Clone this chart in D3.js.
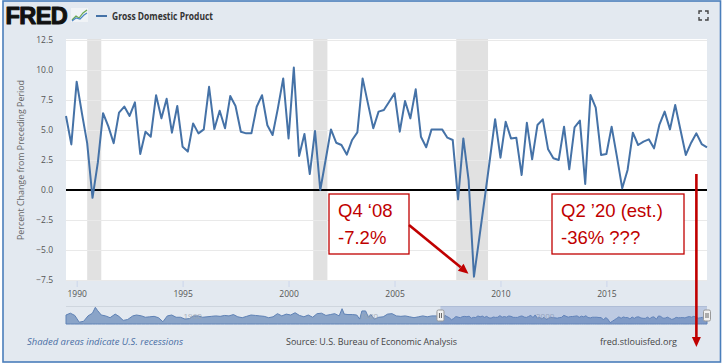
<!DOCTYPE html>
<html><head><meta charset="utf-8">
<script src="https://cdn.jsdelivr.net/npm/d3@7"></script>
<style>body{margin:0;background:#fff;} svg{display:block;}</style>
</head><body>
<svg id="c" width="723" height="363"></svg>
<script>
// ---------------- data ----------------
const seriesName = "Gross Domestic Product";
const firstQuarter = "1989-07-01";
// Percent change from preceding period (quarterly, annualized), 1989Q3 .. 2019Q4
const gdpChange = [
  6.17, 3.8,
  9.03, 6.4, 3.9, -0.65,
  2.3, 6.4, 5.3, 3.9,
  6.45, 6.95, 6.17, 7.3,
  3.0, 4.86, 4.44, 7.9,
  5.97, 7.6, 4.78, 7.0,
  3.6, 3.2, 5.55, 4.72,
  5.05, 8.6, 5.08, 6.6,
  5.14, 7.83, 7.0, 4.86,
  4.72, 4.72, 6.94, 7.9,
  5.4, 4.58, 6.8, 9.3,
  4.3, 10.2, 2.83, 4.67,
  1.33, 4.92, 0.0, 2.5,
  5.05, 3.94, 3.75, 2.95,
  4.17, 4.8, 9.3, 7.2,
  5.14, 6.53, 6.67, 7.36,
  8.05, 4.86, 7.42, 5.97,
  8.39, 4.44, 3.56, 5.05,
  5.05, 5.05, 4.36, 4.17,
  -0.78, 4.3, 0.83, -7.22,
  -4.0, -0.8, 2.5, 5.9,
  2.69, 5.69, 4.3, 4.36,
  1.25, 5.6, 2.56, 5.42,
  5.89, 3.39, 2.64, 2.5,
  5.28, 1.72, 5.22, 5.78,
  0.5, 7.92, 6.86, 2.92,
  3.0, 5.28, 2.78, 0.14,
  1.67, 4.78, 3.75, 4.03,
  4.22, 3.47, 5.42, 6.53,
  5.05, 7.08, 5.0, 2.92,
  3.94, 4.72, 3.83, 3.56
];
const recessionStarts = ["1990-07-01", "2001-03-01", "2007-12-01"];
const recessionEnds   = ["1991-03-01", "2001-11-01", "2009-06-01"];
const yTicks = [-7.5, -5.0, -2.5, 0.0, 2.5, 5.0, 7.5, 10.0, 12.5];
const xTickYears = [1990, 1995, 2000, 2005, 2010, 2015];
// navigator: earlier history (approximate, read from the small navigator strip)
const navHistYears = [1947.0,1947.5,1948.0,1948.5,1949.0,1949.5,1950.0,1950.3,1950.6,1951.0,1951.5,1952.0,1952.6,1953.0,1953.5,1954.0,1954.6,1955.0,1955.6,1956.0,1956.5,1957.0,1957.5,1958.0,1958.5,1959.0,1959.5,1960.0,1960.5,1961.0,1961.5,1962.0,1962.5,1963.0,1963.5,1964.0,1964.5,1965.0,1965.5,1966.0,1966.5,1967.0,1967.5,1968.0,1968.5,1969.0,1969.5,1970.0,1970.5,1971.0,1971.5,1972.0,1972.5,1973.0,1973.5,1974.0,1974.5,1975.0,1975.5,1976.0,1976.5,1977.0,1977.5,1978.0,1978.3,1978.6,1979.0,1979.5,1980.0,1980.3,1980.6,1981.0,1981.3,1981.6,1982.0,1982.5,1983.0,1983.5,1984.0,1984.5,1985.0,1985.5,1986.0,1986.5,1987.0,1987.5,1988.0,1988.5,1989.0];
const navHistValues = [10,14,9,-6,-4,8,14,27,20,10,8,4,12,7,-2,0,8,10,8,5,6,7,4,-5,8,10,5,5,1,2,8,8,5,6,7,8,7,9,8,11,6,4,7,10,9,8,7,4,6,13,8,12,10,15,9,6,10,5,13,14,9,11,13,8,24,12,11,11,10,1,19,19,5,11,1,5,6,12,13,8,7,8,6,4,6,8,6,8,8];
const navLabelYears = [1960, 1980, 2000];
const annotation1 = ["Q4 \u201808", "-7.2%"];
const annotation2 = ["Q2 \u201920 (est.)", "-36% ???"];

// ---------------- setup ----------------
const svg = d3.select("#c");
const W = 723, H = 363;
const BG = "#e3e9f0", LINE = "#4572a7", RED = "#c00000";
const FONT = "'Open Sans', 'Noto Sans', sans-serif";

svg.append("rect").attr("width", W).attr("height", H).attr("fill", "#fff");
svg.append("rect").attr("x", 3).attr("y", 1).attr("width", 717.5).attr("height", 361)
  .attr("fill", BG).attr("stroke", "#4a7ebb").attr("stroke-width", 1.6);

const parse = d3.timeParse("%Y-%m-%d");
const t0 = parse(firstQuarter);
const data = gdpChange.map((v, i) => ({ date: d3.timeMonth.offset(t0, 3 * i), value: v }));

const plot = { left: 66, right: 707, top: 39, bottom: 281 };
const x = d3.scaleTime().domain([data[0].date, data[data.length - 1].date]).range([plot.left, plot.right]);
const y = d3.scaleLinear().domain([-7.5, 12.5]).range([280, 40]);

// plot background
svg.append("rect").attr("x", plot.left).attr("y", plot.top)
  .attr("width", plot.right - plot.left).attr("height", plot.bottom - plot.top).attr("fill", "#fff");

// recessions
svg.append("g").selectAll("rect").data(recessionStarts.map((s, i) => [parse(s), parse(recessionEnds[i])]))
  .join("rect")
  .attr("x", d => x(d[0])).attr("width", d => x(d[1]) - x(d[0]))
  .attr("y", plot.top).attr("height", plot.bottom - plot.top).attr("fill", "#e1e1e1");

// gridlines
svg.append("g").selectAll("line").data(yTicks.filter(d => d !== 0)).join("line")
  .attr("x1", plot.left).attr("x2", plot.right)
  .attr("y1", d => Math.round(y(d)) + 0.5).attr("y2", d => Math.round(y(d)) + 0.5)
  .attr("stroke", "#e9e9e9").attr("stroke-width", 1);

// y axis labels
const yAxis = d3.axisLeft(y).tickValues(yTicks).tickFormat(d3.format(".1f")).tickSize(0).tickPadding(0);
const gy = svg.append("g").attr("transform", "translate(53,0)").call(yAxis);
gy.select(".domain").remove();
gy.selectAll("text").attr("font-family", FONT).attr("font-size", 8.5).attr("fill", "#555");

// y title
svg.append("text").attr("transform", "translate(24,160) rotate(-90)")
  .attr("text-anchor", "middle").attr("font-family", FONT).attr("font-size", 9.5).attr("fill", "#666")
  .attr("textLength", 160).attr("lengthAdjust", "spacingAndGlyphs")
  .text("Percent Change from Preceding Period");

// x axis
const xAxis = d3.axisBottom(x).tickValues(xTickYears.map(yr => new Date(yr, 0, 1)))
  .tickFormat(d3.timeFormat("%Y")).tickSize(6).tickPadding(4);
const gx = svg.append("g").attr("transform", `translate(0,${plot.bottom})`).call(xAxis);
gx.select(".domain").remove();
gx.selectAll("line").attr("stroke", "#ccd6eb");
gx.selectAll("text").attr("font-family", FONT).attr("font-size", 8.5).attr("fill", "#555");

// zero line
svg.append("line").attr("x1", plot.left).attr("x2", plot.right)
  .attr("y1", y(0)).attr("y2", y(0)).attr("stroke", "#000").attr("stroke-width", 2);

// series line
svg.append("path").datum(data)
  .attr("d", d3.line().x(d => x(d.date)).y(d => y(d.value)))
  .attr("fill", "none").attr("stroke", LINE).attr("stroke-width", 2).attr("stroke-linejoin", "round");

// ---------------- header ----------------
svg.append("text").attr("x", 5.5).attr("y", 24).attr("font-family", "'Liberation Sans', Arial, sans-serif")
  .attr("font-weight", 700).attr("font-size", 23.5).attr("fill", "#111").attr("stroke", "#111").attr("stroke-width", 1.1)
  .attr("stroke-linejoin", "round").attr("letter-spacing", -0.6).text("FRED");
const icon = svg.append("g").attr("transform", "translate(71,8)");
icon.append("rect").attr("width", 17).attr("height", 14).attr("fill", "#f0f3f6");
icon.append("polyline").attr("points", "1,12 5,8 8,10 12,5 16,2").attr("fill", "none").attr("stroke", "#6aa84f").attr("stroke-width", 1.2);
icon.append("polyline").attr("points", "1,13 5,10 9,11 13,7 16,5").attr("fill", "none").attr("stroke", "#4a86c5").attr("stroke-width", 1.2);
svg.append("line").attr("x1", 96).attr("x2", 107).attr("y1", 16).attr("y2", 16).attr("stroke", LINE).attr("stroke-width", 2);
svg.append("text").attr("x", 112).attr("y", 20).attr("font-family", FONT).attr("font-weight", 700)
  .attr("font-size", 10).attr("fill", "#333").attr("textLength", 101).attr("lengthAdjust", "spacingAndGlyphs").text(seriesName);
// fullscreen icon
const fs = svg.append("g").attr("transform", "translate(699,11)").attr("fill", "none").attr("stroke", "#444").attr("stroke-width", 1.4);
fs.append("path").attr("d", "M0,3V0H3 M6,0H9V3 M9,6V9H6 M3,9H0V6");

// ---------------- navigator ----------------
const nav = { top: 306, bottom: 324 };
const navData = navHistYears.map((yr, i) => ({ date: new Date(Math.floor(yr), Math.round((yr % 1) * 12), 1), value: navHistValues[i] }))
  .concat(data);
const xn = d3.scaleTime().domain([new Date(1947, 0, 1), data[data.length - 1].date]).range([plot.left, plot.right]);
const yn = d3.scaleLinear().domain([-10, 30]).range([nav.bottom, nav.top]);
svg.append("line").attr("x1", plot.left).attr("x2", plot.right).attr("y1", nav.top + 0.5).attr("y2", nav.top + 0.5)
  .attr("stroke", "#cfd6de");
svg.append("path").datum(navData)
  .attr("d", d3.area().x(d => xn(d.date)).y0(nav.bottom).y1(d => yn(d.value)))
  .attr("fill", "#8aa4c8").attr("stroke", "#5f82b5").attr("stroke-width", 1);
svg.append("g").selectAll("text").data(navLabelYears).join("text")
  .attr("x", d => xn(new Date(d, 0, 1)) + 3).attr("y", 319)
  .attr("font-family", FONT).attr("font-size", 8).attr("fill", "#9aa4b0").attr("opacity", 0.8).text(d => d);
const selX0 = xn(data[0].date), selX1 = xn(data[data.length - 1].date);
svg.append("rect").attr("x", selX0).attr("y", nav.top).attr("width", selX1 - selX0).attr("height", nav.bottom - nav.top)
  .attr("fill", "rgba(102,133,194,0.3)");
[selX0, selX1].forEach(hx => {
  svg.append("rect").attr("x", hx - 3.5).attr("y", 310).attr("width", 7).attr("height", 11).attr("rx", 1.5)
    .attr("fill", "#f2f2f2").attr("stroke", "#999");
  svg.append("line").attr("x1", hx - 1).attr("x2", hx - 1).attr("y1", 313).attr("y2", 318).attr("stroke", "#666");
  svg.append("line").attr("x1", hx + 1).attr("x2", hx + 1).attr("y1", 313).attr("y2", 318).attr("stroke", "#666");
});

// ---------------- footer ----------------
svg.append("text").attr("x", 27).attr("y", 345).attr("font-family", FONT).attr("font-style", "italic")
  .attr("font-size", 9.5).attr("fill", "#4a6fa5").attr("textLength", 156).attr("lengthAdjust", "spacingAndGlyphs")
  .text("Shaded areas indicate U.S. recessions");
svg.append("text").attr("x", 286).attr("y", 345).attr("font-family", FONT)
  .attr("font-size", 9.5).attr("fill", "#444").attr("textLength", 171).attr("lengthAdjust", "spacingAndGlyphs")
  .text("Source: U.S. Bureau of Economic Analysis");
svg.append("text").attr("x", 600).attr("y", 345).attr("font-family", FONT)
  .attr("font-size", 9.5).attr("fill", "#444").attr("textLength", 77).attr("lengthAdjust", "spacingAndGlyphs")
  .text("fred.stlouisfed.org");

// ---------------- annotations ----------------
const AFONT = "'Liberation Sans', Arial, sans-serif";
function box(x0, x1, lines) {
  svg.append("rect").attr("x", x0).attr("y", 194).attr("width", x1 - x0).attr("height", 60)
    .attr("fill", "#fff").attr("stroke", RED).attr("stroke-width", 1.3);
  lines.forEach((t, i) => svg.append("text").attr("x", x0 + 9).attr("y", 217 + i * 27)
    .attr("font-family", AFONT).attr("font-size", 18.5).attr("fill", RED).text(t));
}
box(329, 409, annotation1);
box(552, 684, annotation2);

function arrow(x1, y1, x2, y2) {
  const a = Math.atan2(y2 - y1, x2 - x1), L = 10, w = 4.5;
  const bx = x2 - L * Math.cos(a), by = y2 - L * Math.sin(a);
  svg.append("line").attr("x1", x1).attr("y1", y1).attr("x2", bx).attr("y2", by)
    .attr("stroke", RED).attr("stroke-width", 2.6);
  svg.append("path").attr("d", `M${x2},${y2}L${bx + w * Math.sin(a)},${by - w * Math.cos(a)}L${bx - w * Math.sin(a)},${by + w * Math.cos(a)}Z`)
    .attr("fill", RED);
}
const trough = data.find(d => d.value === d3.min(gdpChange));
arrow(409, 225, x(trough.date) - 5.5, y(trough.value) - 3);
const q2x = x(parse("2019-04-01"));
arrow(q2x, 174, q2x, 347);
</script>
</body></html>
